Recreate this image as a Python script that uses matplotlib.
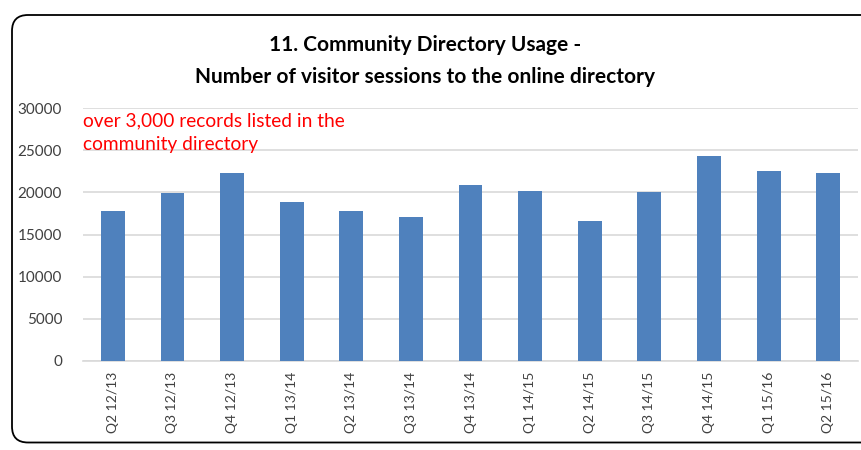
import matplotlib.pyplot as plt
from matplotlib.patches import FancyBboxPatch
from matplotlib.transforms import IdentityTransform

# quarters and visitor sessions
quarters = ['Q2 12/13', 'Q3 12/13', 'Q4 12/13', 'Q1 13/14', 'Q2 13/14', 'Q3 13/14',
            'Q4 13/14', 'Q1 14/15', 'Q2 14/15', 'Q3 14/15', 'Q4 14/15', 'Q1 15/16', 'Q2 15/16']
sessions = [17750, 19900, 22350, 18830, 17800, 17040,
            20890, 20210, 16650, 20060, 24330, 22510, 22350]
yticks = [0, 5000, 10000, 15000, 20000, 25000, 30000]

plt.rcParams['font.family'] = ['Lato', 'DejaVu Sans']

fig = plt.figure(figsize=(8.61, 4.5), dpi=100)
ax = fig.add_axes([83 / 861, 1 - 360.7 / 450, 775 / 861, 252.4 / 450])

ax.bar(range(len(quarters)), sessions, width=0.4, color='#4F81BD', zorder=3)

ax.set_xlim(-0.5, len(quarters) - 0.5)
ax.set_ylim(0, 30000)
ax.set_yticks(yticks)
ax.set_yticklabels([str(v) for v in yticks], fontsize=11, color='#404040')
ax.set_xticks(range(len(quarters)))
ax.set_xticklabels(quarters, rotation=90, fontsize=10, color='#404040')
ax.tick_params(axis='both', length=0)
ax.tick_params(axis='y', pad=15)
ax.tick_params(axis='x', pad=8)
ax.grid(axis='y', color='#D9D9D9', linewidth=1.2, zorder=0)
for s in ['top', 'right', 'left']:
    ax.spines[s].set_visible(False)
ax.spines['bottom'].set_color('#D9D9D9')
ax.spines['bottom'].set_linewidth(1.2)

ax.text(0.0, 0.985, 'over 3,000 records listed in the\ncommunity directory',
        transform=ax.transAxes, ha='left', va='top', fontsize=13.8,
        color='red', linespacing=1.5)

fig.text(0.494, 1 - 45 / 450, '11. Community Directory Usage -',
         ha='center', va='center', fontsize=15, fontweight='bold')
fig.text(0.494, 1 - 76.7 / 450, 'Number of visitor sessions to the online directory',
         ha='center', va='center', fontsize=15, fontweight='bold')

# rounded outer border, in pixels
box = FancyBboxPatch((12, 7.5), 900, 427.5, boxstyle='round,pad=0,rounding_size=16',
                     transform=IdentityTransform(), facecolor='none',
                     edgecolor='black', linewidth=1.3)
fig.add_artist(box)

fig.savefig('out.png', dpi=100)
